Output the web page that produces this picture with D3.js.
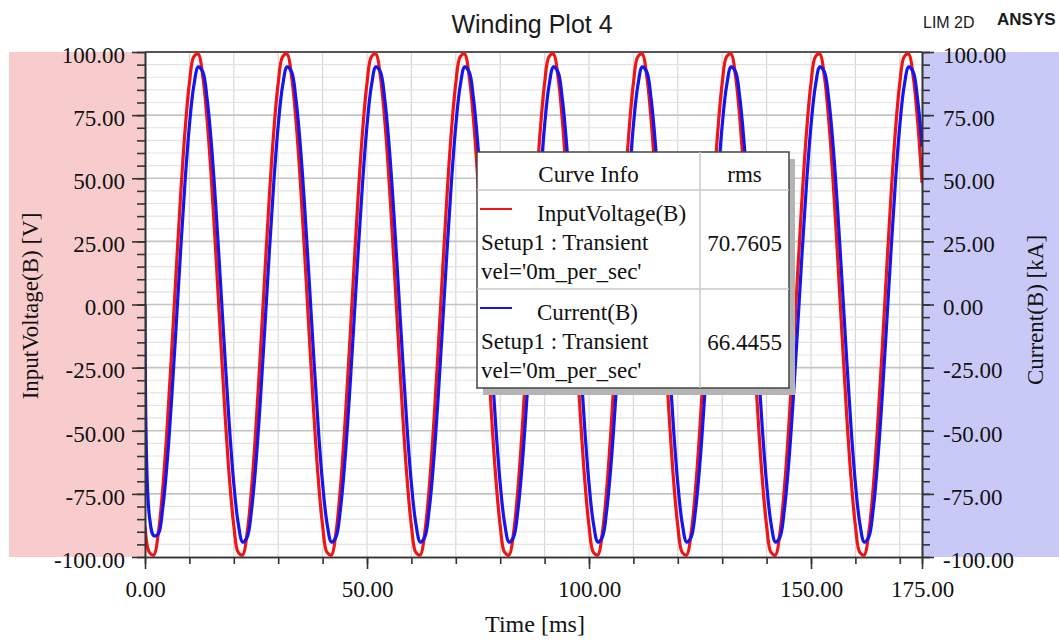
<!DOCTYPE html>
<html lang="en">
<head>
    <meta charset="UTF-8">
    <title>Winding Plot 4</title>
    <script src="https://cdn.jsdelivr.net/npm/d3@7/dist/d3.min.js"></script>
    <style>
        body { margin: 0; background: #fff; }
        .serif { font-family: "Liberation Serif", "Times New Roman", serif; fill: #111; }
        .sans { font-family: "Liberation Sans", Arial, sans-serif; fill: #1a1a1a; }
        .axis path, .axis line { stroke: #333; }
        .axis text { font-family: "Liberation Serif", "Times New Roman", serif; font-size: 23px; fill: #111; }
    </style>
</head>
<body>
    <script>
        // sample times of the transient run (ms)
        var timeMs = [
            0,1,2,3,4,5,6,7,8,9,10,11,12,13,14,15,16,17,18,19,
            20,21,22,23,24,25,26,27,28,29,30,31,32,33,34,35,36,37,38,39,
            40,41,42,43,44,45,46,47,48,49,50,51,52,53,54,55,56,57,58,59,
            60,61,62,63,64,65,66,67,68,69,70,71,72,73,74,75,76,77,78,79,
            80,81,82,83,84,85,86,87,88,89,90,91,92,93,94,95,96,97,98,99,
            100,101,102,103,104,105,106,107,108,109,110,111,112,113,114,115,116,117,118,119,
            120,121,122,123,124,125,126,127,128,129,130,131,132,133,134,135,136,137,138,139,
            140,141,142,143,144,145,146,147,148,149,150,151,152,153,154,155,156,157,158,159,
            160,161,162,163,164,165,166,167,168,169,170,171,172,173,174,175
        ];

        // InputVoltage(B) [V]
        var inputVoltage = [
            -87.6,-98.2,-99.2,-90.5,-72.9,-48.2,-18.7,12.5,42.6,68.5,87.6,98.2,99.2,90.5,72.9,48.2,18.7,-12.5,-42.6,-68.5,
            -87.6,-98.2,-99.2,-90.5,-72.9,-48.2,-18.7,12.5,42.6,68.5,87.6,98.2,99.2,90.5,72.9,48.2,18.7,-12.5,-42.6,-68.5,
            -87.6,-98.2,-99.2,-90.5,-72.9,-48.2,-18.7,12.5,42.6,68.5,87.6,98.2,99.2,90.5,72.9,48.2,18.7,-12.5,-42.6,-68.5,
            -87.6,-98.2,-99.2,-90.5,-72.9,-48.2,-18.7,12.5,42.6,68.5,87.6,98.2,99.2,90.5,72.9,48.2,18.7,-12.5,-42.6,-68.5,
            -87.6,-98.2,-99.2,-90.5,-72.9,-48.2,-18.7,12.5,42.6,68.5,87.6,98.2,99.2,90.5,72.9,48.2,18.7,-12.5,-42.6,-68.5,
            -87.6,-98.2,-99.2,-90.5,-72.9,-48.2,-18.7,12.5,42.6,68.5,87.6,98.2,99.2,90.5,72.9,48.2,18.7,-12.5,-42.6,-68.5,
            -87.6,-98.2,-99.2,-90.5,-72.9,-48.2,-18.7,12.5,42.6,68.5,87.6,98.2,99.2,90.5,72.9,48.2,18.7,-12.5,-42.6,-68.5,
            -87.6,-98.2,-99.2,-90.5,-72.9,-48.2,-18.7,12.5,42.6,68.5,87.6,98.2,99.2,90.5,72.9,48.2,18.7,-12.5,-42.6,-68.5,
            -87.6,-98.2,-99.2,-90.5,-72.9,-48.2,-18.7,12.5,42.6,68.5,87.6,98.2,99.2,90.5,72.9,48.2
        ];

        // Current(B) [kA]
        var current = [
            0,-84.0,-91.6,-90.8,-80.6,-62.2,-37.4,-8.9,20.6,48.1,70.9,86.7,94.1,92.2,81.3,62.5,37.5,8.9,-20.6,-48.1,
            -70.9,-86.7,-94.1,-92.2,-81.3,-62.5,-37.5,-8.9,20.6,48.1,70.9,86.7,94.1,92.2,81.3,62.5,37.5,8.9,-20.6,-48.1,
            -70.9,-86.7,-94.1,-92.2,-81.3,-62.5,-37.5,-8.9,20.6,48.1,70.9,86.7,94.1,92.2,81.3,62.5,37.5,8.9,-20.6,-48.1,
            -70.9,-86.7,-94.1,-92.2,-81.3,-62.5,-37.5,-8.9,20.6,48.1,70.9,86.7,94.1,92.2,81.3,62.5,37.5,8.9,-20.6,-48.1,
            -70.9,-86.7,-94.1,-92.2,-81.3,-62.5,-37.5,-8.9,20.6,48.1,70.9,86.7,94.1,92.2,81.3,62.5,37.5,8.9,-20.6,-48.1,
            -70.9,-86.7,-94.1,-92.2,-81.3,-62.5,-37.5,-8.9,20.6,48.1,70.9,86.7,94.1,92.2,81.3,62.5,37.5,8.9,-20.6,-48.1,
            -70.9,-86.7,-94.1,-92.2,-81.3,-62.5,-37.5,-8.9,20.6,48.1,70.9,86.7,94.1,92.2,81.3,62.5,37.5,8.9,-20.6,-48.1,
            -70.9,-86.7,-94.1,-92.2,-81.3,-62.5,-37.5,-8.9,20.6,48.1,70.9,86.7,94.1,92.2,81.3,62.5,37.5,8.9,-20.6,-48.1,
            -70.9,-86.7,-94.1,-92.2,-81.3,-62.5,-37.5,-8.9,20.6,48.1,70.9,86.7,94.1,92.2,81.3,62.5
        ];

        // tick values
        var yMajorTicks = [-100, -75, -50, -25, 0, 25, 50, 75, 100];
        var yMinorTicks = [-100,-95,-90,-85,-80,-75,-70,-65,-60,-55,-50,-45,-40,-35,-30,-25,-20,-15,-10,-5,
                           0,5,10,15,20,25,30,35,40,45,50,55,60,65,70,75,80,85,90,95,100];
        var xMajorTicks = [0, 50, 100, 150, 175];
        var xMinorTicks = [0,10,20,30,40,50,60,70,80,90,100,110,120,130,140,150,160,170,175];

        // legend contents
        var seriesNames = ["InputVoltage(B)", "Current(B)"];
        var seriesColors = ["#f01515", "#1515ee"];
        var seriesRms = ["70.7605", "66.4455"];
        var setupLabel = "Setup1 : Transient";
        var velLabel = "vel='0m_per_sec'";

        var W = 1059, H = 640;
        var plot = { left: 145, right: 922, top: 52, bottom: 557 };

        var x = d3.scaleLinear().domain([0, 175]).range([plot.left, plot.right]);
        var yL = d3.scaleLinear().domain([-100, 100]).range([plot.bottom, plot.top]);
        var yR = d3.scaleLinear().domain([-100, 100]).range([plot.bottom, plot.top]);

        var svg = d3.select("body").append("svg")
            .attr("width", W)
            .attr("height", H);

        // side panels
        svg.append("rect")
            .attr("x", 9).attr("y", plot.top)
            .attr("width", plot.left - 9).attr("height", plot.bottom - plot.top)
            .attr("fill", "#f8cccc");
        svg.append("rect")
            .attr("x", plot.right).attr("y", plot.top)
            .attr("width", W - plot.right).attr("height", plot.bottom - plot.top)
            .attr("fill", "#c9c9f7");

        // grid
        var grid = svg.append("g");
        grid.selectAll(".vgrid")
            .data(xMinorTicks.filter(d => d > 0 && d < 175))
            .enter().append("line")
            .attr("x1", d => x(d)).attr("x2", d => x(d))
            .attr("y1", plot.top).attr("y2", plot.bottom)
            .attr("stroke", "#d9d9d9").attr("stroke-width", 1.2);
        grid.selectAll(".hgrid")
            .data(yMinorTicks.filter(d => d > -100 && d < 100))
            .enter().append("line")
            .attr("x1", plot.left).attr("x2", plot.right)
            .attr("y1", d => yL(d)).attr("y2", d => yL(d))
            .attr("stroke", d => d % 25 === 0 ? "#c4c4c4" : "#e3e3e3")
            .attr("stroke-width", d => d % 25 === 0 ? 1.6 : 1.2);

        // top border
        svg.append("line")
            .attr("x1", plot.left).attr("x2", plot.right)
            .attr("y1", plot.top).attr("y2", plot.top)
            .attr("stroke", "#555").attr("stroke-width", 2);

        // curves
        svg.append("clipPath").attr("id", "clip")
            .append("rect")
            .attr("x", plot.left).attr("y", plot.top - 2)
            .attr("width", plot.right - plot.left).attr("height", plot.bottom - plot.top + 4);

        var lineV = d3.line()
            .x((d, i) => x(timeMs[i]))
            .y(d => yL(d))
            .curve(d3.curveCatmullRom);
        var lineI = d3.line()
            .x((d, i) => x(timeMs[i]))
            .y(d => yR(d))
            .curve(d3.curveCatmullRom);

        var curves = svg.append("g").attr("clip-path", "url(#clip)");
        curves.append("path")
            .datum(inputVoltage)
            .attr("d", lineV)
            .attr("fill", "none")
            .attr("stroke", seriesColors[0])
            .attr("stroke-width", 3.2);
        curves.append("path")
            .datum(current)
            .attr("d", lineI)
            .attr("fill", "none")
            .attr("stroke", seriesColors[1])
            .attr("stroke-width", 3.2);

        // plain hyphen minus like the original tool
        var fmt2 = d3.format(".2f");
        var fmt = d => fmt2(d).replace("\u2212", "-");

        // left axis
        svg.append("g")
            .attr("class", "axis")
            .attr("transform", "translate(" + plot.left + ",0)")
            .call(d3.axisLeft(yL).tickValues(yMinorTicks).tickSize(8).tickSizeOuter(0).tickFormat(""));
        svg.append("g")
            .attr("class", "axis")
            .attr("transform", "translate(" + plot.left + ",0)")
            .call(d3.axisLeft(yL).tickValues(yMajorTicks).tickSize(13).tickSizeOuter(0).tickPadding(7).tickFormat(fmt))
            .selectAll("text").attr("dy", "0.45em");

        // right axis
        svg.append("g")
            .attr("class", "axis")
            .attr("transform", "translate(" + plot.right + ",0)")
            .call(d3.axisRight(yR).tickValues(yMinorTicks).tickSize(8).tickSizeOuter(0).tickFormat(""));
        svg.append("g")
            .attr("class", "axis")
            .attr("transform", "translate(" + plot.right + ",0)")
            .call(d3.axisRight(yR).tickValues(yMajorTicks).tickSize(12).tickSizeOuter(0).tickPadding(9).tickFormat(fmt))
            .selectAll("text").attr("dy", "0.45em");

        // bottom axis
        svg.append("g")
            .attr("class", "axis")
            .attr("transform", "translate(0," + plot.bottom + ")")
            .call(d3.axisBottom(x).tickValues(xMinorTicks).tickSize(7).tickSizeOuter(0).tickFormat(""));
        svg.append("g")
            .attr("class", "axis")
            .attr("transform", "translate(0," + plot.bottom + ")")
            .call(d3.axisBottom(x).tickValues(xMajorTicks).tickSize(12).tickSizeOuter(0).tickPadding(12).tickFormat(fmt));

        svg.selectAll(".axis path, .axis line").attr("stroke-width", 1.6);

        // titles
        svg.append("text")
            .attr("class", "sans")
            .attr("x", 532).attr("y", 33)
            .attr("text-anchor", "middle")
            .style("font-size", "25px")
            .text("Winding Plot 4");
        svg.append("text")
            .attr("class", "sans")
            .attr("x", 923).attr("y", 28)
            .style("font-size", "16px")
            .text("LIM 2D");
        svg.append("text")
            .attr("class", "sans")
            .attr("x", 997).attr("y", 25)
            .style("font-size", "17px")
            .style("font-weight", "bold")
            .text("ANSYS");

        svg.append("text")
            .attr("class", "serif")
            .attr("transform", "translate(38,306) rotate(-90)")
            .attr("text-anchor", "middle")
            .style("font-size", "23px")
            .text("InputVoltage(B) [V]");
        svg.append("text")
            .attr("class", "serif")
            .attr("transform", "translate(1043,310) rotate(-90)")
            .attr("text-anchor", "middle")
            .style("font-size", "23px")
            .text("Current(B) [kA]");
        svg.append("text")
            .attr("class", "serif")
            .attr("x", 535).attr("y", 632)
            .attr("text-anchor", "middle")
            .style("font-size", "24px")
            .text("Time [ms]");

        // legend table
        var lg = { x: 477, y: 152, w: 312, h: 236, col: 700, head: 190, mid: 289 };
        var legend = svg.append("g");
        legend.append("rect")
            .attr("x", lg.x + 6).attr("y", lg.y + 7)
            .attr("width", lg.w).attr("height", lg.h)
            .attr("fill", "#b4b4b4");
        legend.append("rect")
            .attr("x", lg.x).attr("y", lg.y)
            .attr("width", lg.w).attr("height", lg.h)
            .attr("fill", "#fff")
            .attr("stroke", "#444").attr("stroke-width", 1.5);
        legend.append("line")
            .attr("x1", lg.col).attr("x2", lg.col)
            .attr("y1", lg.y).attr("y2", lg.y + lg.h)
            .attr("stroke", "#c8c8c8").attr("stroke-width", 1.5);
        [lg.head, lg.mid].forEach(yy => {
            legend.append("line")
                .attr("x1", lg.x).attr("x2", lg.x + lg.w)
                .attr("y1", yy).attr("y2", yy)
                .attr("stroke", "#c8c8c8").attr("stroke-width", 1.5);
        });

        legend.append("text").attr("class", "serif")
            .attr("x", (lg.x + lg.col) / 2).attr("y", 182)
            .attr("text-anchor", "middle").style("font-size", "23px")
            .text("Curve Info");
        legend.append("text").attr("class", "serif")
            .attr("x", (lg.col + lg.x + lg.w) / 2).attr("y", 182)
            .attr("text-anchor", "middle").style("font-size", "23px")
            .text("rms");

        var rowTop = [lg.head, lg.mid];
        seriesNames.forEach((name, i) => {
            var y0 = rowTop[i];
            legend.append("line")
                .attr("x1", 480).attr("x2", 512)
                .attr("y1", y0 + 19).attr("y2", y0 + 19)
                .attr("stroke", seriesColors[i]).attr("stroke-width", 2);
            legend.append("text").attr("class", "serif")
                .attr("x", 537).attr("y", y0 + 31)
                .style("font-size", "23px")
                .text(name);
            legend.append("text").attr("class", "serif")
                .attr("x", 481).attr("y", y0 + 60)
                .style("font-size", "23px")
                .text(setupLabel);
            legend.append("text").attr("class", "serif")
                .attr("x", 481).attr("y", y0 + 89)
                .style("font-size", "23px")
                .text(velLabel);
            legend.append("text").attr("class", "serif")
                .attr("x", (lg.col + lg.x + lg.w) / 2).attr("y", y0 + 61)
                .attr("text-anchor", "middle").style("font-size", "23px")
                .text(seriesRms[i]);
        });
    </script>
</body>
</html>
